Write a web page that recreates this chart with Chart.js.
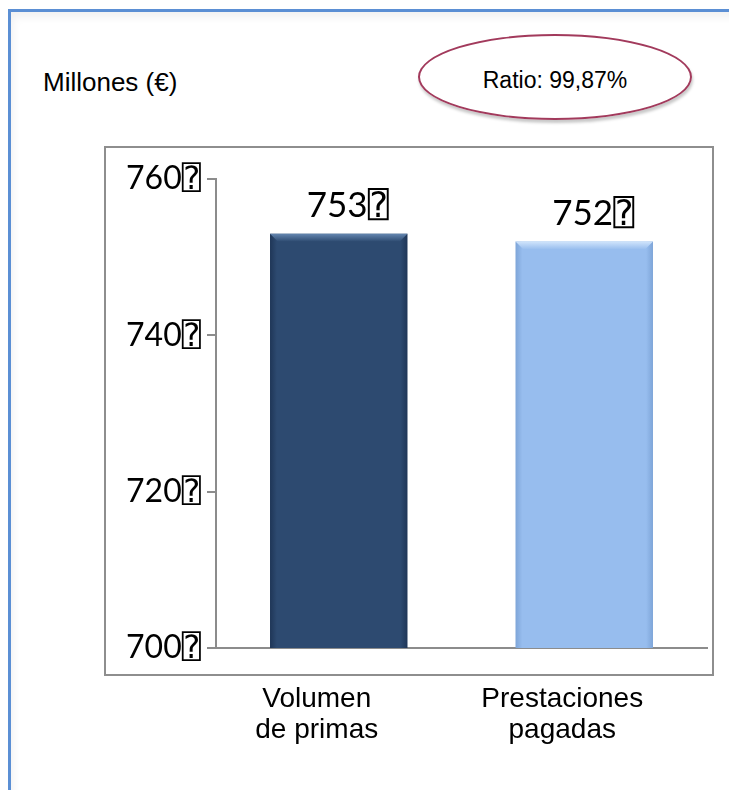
<!DOCTYPE html>
<html>
<head>
<meta charset="utf-8">
<script src="https://cdn.jsdelivr.net/npm/chart.js"></script>
<style>
  html, body { margin: 0; padding: 0; background: #fff; }
  #page { position: relative; width: 729px; height: 790px; overflow: hidden; }
  #frame {
    position: absolute; left: 8px; top: 9px; width: 780px; height: 820px;
    border-left: 3px solid #5b8fd4; border-top: 3px solid #5b8fd4;
    box-shadow: inset 2px 5px 8px rgba(0,0,0,0.06);
  }
  #unit {
    position: absolute; left: 43px; top: 67px; height: 25px; line-height: 25px;
    font: 26px "Liberation Sans", Arial, sans-serif; color: #000; white-space: nowrap;
  }
  #ellipse {
    position: absolute; left: 418px; top: 34px; width: 274px; height: 86px;
    box-sizing: border-box; border: 2px solid #a23a5c; border-radius: 50%;
    box-shadow: 1px 3px 3px rgba(0,0,0,0.22);
  }
  #ratio {
    position: absolute; left: 418px; top: 67px; width: 274px; text-align: center;
    height: 23px; line-height: 23px;
    font: 23px "Liberation Sans", Arial, sans-serif; color: #000; white-space: nowrap;
  }
  #ratio span {
    -webkit-box-reflect: below -7px linear-gradient(transparent 45%, rgba(255,255,255,0.35));
  }
  #plotbox {
    position: absolute; left: 104px; top: 146px; width: 606px; height: 526px;
    border: 2px solid #8e8e8e;
  }
  #chart { position: absolute; left: 0; top: 0; }
</style>
</head>
<body>
<div id="page">
  <div id="frame"></div>
  <div id="unit">Millones (€)</div>
  <div id="ellipse"></div>
  <div id="ratio"><span>Ratio: 99,87%</span></div>
  <div id="plotbox"></div>
  <canvas id="chart" width="729" height="790"></canvas>
</div>

<script>
  // bar categories, values and y-axis ticks
  const categories = [['Volumen', 'de primas'], ['Prestaciones', 'pagadas']];
  const values = [753, 752];
  const yTicks = [700, 720, 740, 760];

  // the unit glyph that follows every number
  const suffix = '\u2370';

  // base, edge and highlight shade for each bar
  const shades = [
    { base: '#2d4a70', edge: '#1f3657', light: '#6486b0' },
    { base: '#97bdee', edge: '#7ea5d8', light: '#d0e4fb' }
  ];

  function barFill(context) {
    const chart = context.chart;
    const i = context.dataIndex;
    const s = shades[i];
    if (!chart.chartArea || !chart.scales.x) return s.base;
    const xs = chart.scales.x;
    const cx = xs.getPixelForValue(i);
    const half = xs.width / categories.length * 0.56 / 2;
    const g = chart.ctx.createLinearGradient(cx - half, 0, cx + half, 0);
    g.addColorStop(0, s.edge);
    g.addColorStop(0.05, s.base);
    g.addColorStop(0.95, s.base);
    g.addColorStop(1, s.edge);
    return g;
  }

  // light bevel along the top edge of each bar
  const bevel = {
    id: 'bevel',
    afterDatasetsDraw(chart) {
      const ctx = chart.ctx;
      chart.getDatasetMeta(0).data.forEach((bar, i) => {
        const x0 = bar.x - bar.width / 2, x1 = bar.x + bar.width / 2;
        const y = bar.y, d = 8;
        const g = ctx.createLinearGradient(0, y, 0, y + d);
        g.addColorStop(0, shades[i].light);
        g.addColorStop(1, shades[i].base);
        ctx.save();
        ctx.fillStyle = g;
        ctx.beginPath();
        ctx.moveTo(x0, y);
        ctx.lineTo(x1, y);
        ctx.lineTo(x1 - d, y + d);
        ctx.lineTo(x0 + d, y + d);
        ctx.closePath();
        ctx.fill();
        ctx.restore();
      });
    }
  };

  // value printed above each bar
  const valueLabels = {
    id: 'valueLabels',
    afterDatasetsDraw(chart) {
      const ctx = chart.ctx;
      ctx.save();
      ctx.font = '35px Lato, "DejaVu Sans", "DejaVu Sans Mono"';
      ctx.fillStyle = '#000';
      ctx.textAlign = 'center';
      ctx.textBaseline = 'alphabetic';
      chart.getDatasetMeta(0).data.forEach((bar, i) => {
        ctx.fillText(values[i] + suffix, bar.x + 9, bar.y - 17);
      });
      ctx.restore();
    }
  };

  new Chart(document.getElementById('chart'), {
    type: 'bar',
    data: {
      labels: categories,
      datasets: [{
        data: values,
        backgroundColor: barFill,
        borderWidth: 0,
        categoryPercentage: 1,
        barPercentage: 0.56
      }]
    },
    options: {
      responsive: false,
      animation: false,
      layout: { padding: { top: 179, right: 22, left: 0, bottom: 0 } },
      plugins: {
        legend: { display: false },
        tooltip: { enabled: false }
      },
      scales: {
        y: {
          min: 700,
          max: 760,
          afterBuildTicks: s => { s.ticks = yTicks.map(v => ({ value: v })); },
          afterFit: s => { s.width = 216; },
          border: { color: '#8c8c8c', width: 2 },
          grid: { drawOnChartArea: false, tickLength: 9, color: '#8c8c8c', lineWidth: 2 },
          ticks: {
            color: '#000',
            padding: 6,
            font: { family: 'Lato, "DejaVu Sans", "DejaVu Sans Mono"', size: 32 },
            callback: v => v + suffix
          }
        },
        x: {
          afterFit: s => { s.height = 142; },
          border: { color: '#8c8c8c', width: 2 },
          grid: { display: false },
          ticks: {
            color: '#000',
            padding: 28,
            labelOffset: -22,
            maxRotation: 0,
            font: { family: '"Liberation Sans", Arial, sans-serif', size: 28, lineHeight: 1.1 }
          }
        }
      }
    },
    plugins: [bevel, valueLabels]
  });
</script>
</body>
</html>
